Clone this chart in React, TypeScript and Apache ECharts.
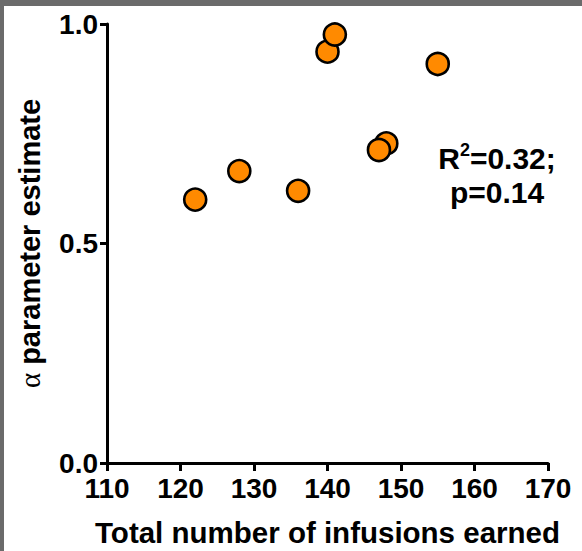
import React, { useEffect, useRef } from "react";
import * as echarts from "echarts";

const infusions = [122, 128, 136, 140, 141, 148, 147, 155];
const alphaEstimates = [0.6, 0.665, 0.62, 0.937, 0.976, 0.728, 0.713, 0.909];
const xTitle = "Total number of infusions earned";
const yTitleSymbol = "α";
const yTitleText = "parameter estimate";
const statsR2 = ["R", "2", "=0.32;"];
const statsP = "p=0.14";

const SANS = "'Liberation Sans', Arial, sans-serif";

export default function App() {
  const ref = useRef<HTMLDivElement>(null);
  useEffect(() => {
    if (!ref.current) return;
    const chart = echarts.init(ref.current, null, { renderer: "svg" });
    const points = infusions.map((x, i) => [x, alphaEstimates[i]]);
    chart.setOption({
      animation: false,
      backgroundColor: "#ffffff",
      grid: { left: 103, right: 34, top: 18, bottom: 88, containLabel: false, outerBoundsMode: "none" },
      xAxis: {
        type: "value",
        min: 110,
        max: 170,
        interval: 10,
        name: xTitle,
        nameLocation: "middle",
        nameGap: 54,
        nameTextStyle: { fontFamily: SANS, fontWeight: "bold", fontSize: 29.5, color: "#000" },
        axisLine: { show: true, lineStyle: { color: "#000", width: 3 } },
        axisTick: { show: true, inside: false, length: 8, lineStyle: { color: "#000", width: 3 } },
        axisLabel: { fontFamily: SANS, fontWeight: "bold", fontSize: 28, color: "#000", margin: 11 },
        splitLine: { show: false },
      },
      yAxis: {
        type: "value",
        min: 0,
        max: 1,
        interval: 0.5,
        name: `{a|${yTitleSymbol}}{b| ${yTitleText}}`,
        nameLocation: "middle",
        nameGap: 63,
        nameRotate: 90,
        nameTextStyle: {
          color: "#000",
          rich: {
            a: { fontFamily: "'Liberation Serif', 'Times New Roman', serif", fontSize: 29, fontWeight: "normal", color: "#000" },
            b: { fontFamily: SANS, fontWeight: "bold", fontSize: 29, color: "#000" },
          },
        },
        axisLine: { show: true, lineStyle: { color: "#000", width: 3 } },
        axisTick: { show: true, inside: false, length: 7, lineStyle: { color: "#000", width: 3 } },
        axisLabel: {
          fontFamily: SANS,
          fontWeight: "bold",
          fontSize: 28,
          color: "#000",
          margin: 9,
          formatter: (v: number) => v.toFixed(1),
        },
        splitLine: { show: false },
      },
      series: [
        {
          type: "scatter",
          data: points,
          symbol: "circle",
          symbolSize: 22,
          itemStyle: { color: "#ff8a00", borderColor: "#000", borderWidth: 2.6, opacity: 1 },
          emphasis: { disabled: true },
        },
      ],
      graphic: [
        {
          type: "text",
          x: 493,
          y: 169,
          style: {
            text: `{n|${statsR2[0]}}{s|${statsR2[1]}}{n|${statsR2[2]}}\n{n|${statsP}}`,
            fontFamily: SANS,
            fontWeight: "bold",
            fontSize: 30,
            lineHeight: 34,
            fill: "#000",
            align: "center",
            verticalAlign: "middle",
            rich: {
              n: { fontFamily: SANS, fontWeight: "bold", fontSize: 30, lineHeight: 34, fill: "#000" },
              s: { fontFamily: SANS, fontWeight: "bold", fontSize: 18, lineHeight: 22, fill: "#000", verticalAlign: "top" },
            },
          },
        },
      ],
    });
    return () => chart.dispose();
  }, []);
  return (
    <div style={{ position: "fixed", left: 0, top: 0, width: 582, height: 551, background: "#6b6b6b" }}>
      <div ref={ref} style={{ position: "absolute", left: 4, top: 6, width: 578, height: 545 }} />
    </div>
  );
}
